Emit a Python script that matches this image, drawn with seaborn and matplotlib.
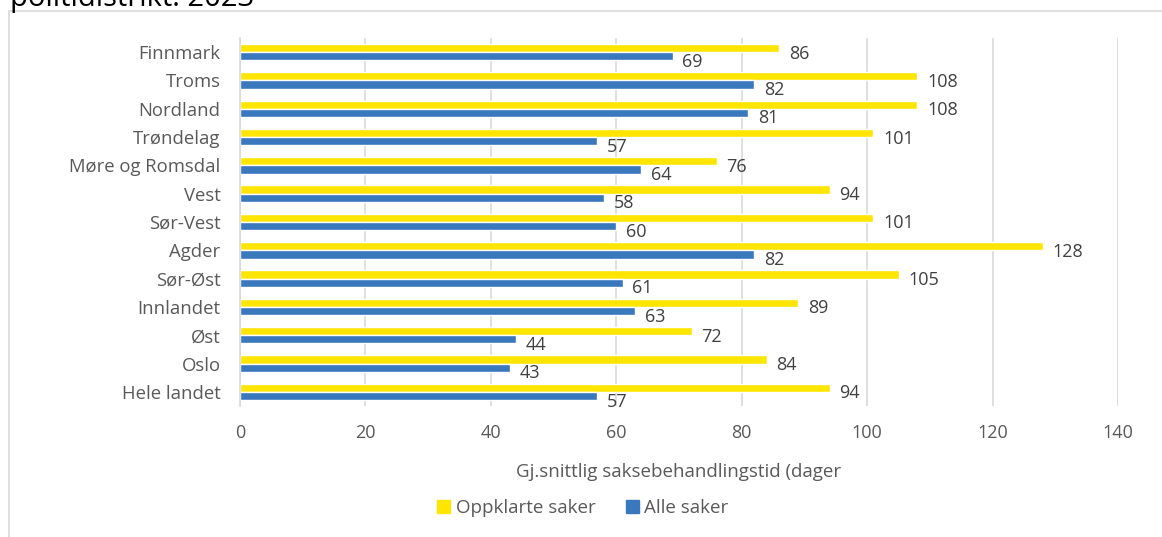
import matplotlib
matplotlib.use("Agg")
import matplotlib.pyplot as plt
import seaborn as sns
import pandas as pd
from matplotlib.patches import Patch, Rectangle

districts = ["Finnmark", "Troms", "Nordland", "Trøndelag", "Møre og Romsdal", "Vest",
             "Sør-Vest", "Agder", "Sør-Øst", "Innlandet", "Øst", "Oslo", "Hele landet"]
oppklarte = [86, 108, 108, 101, 76, 94, 101, 128, 105, 89, 72, 84, 94]
alle = [69, 82, 81, 57, 64, 58, 60, 82, 61, 63, 44, 43, 57]
series_names = ["Oppklarte saker", "Alle saker"]
xticks = [0, 20, 40, 60, 80, 100, 120, 140]

colors = ["#FFE500", "#3A78BD"]
text_color = "#595959"

df = pd.DataFrame({
    "distrikt": districts * 2,
    "verdi": oppklarte + alle,
    "serie": [series_names[0]] * len(districts) + [series_names[1]] * len(districts),
})

sns.set_theme(style="white")
plt.rcParams["font.family"] = ["Open Sans", "DejaVu Sans"]

fig = plt.figure(figsize=(11.62, 5.37), dpi=100)
ax = fig.add_axes([240 / 1162, 1 - 406 / 537, 878 / 1162, 368 / 537])

sns.barplot(data=df, x="verdi", y="distrikt", hue="serie", orient="h",
            palette=colors, width=0.58, ax=ax, legend=False, saturation=1)

ax.set_xlim(0, 140)
ax.set_ylim(12.5, -0.5)
ax.set_xticks(xticks)
ax.set_xticklabels([str(t) for t in xticks])
ax.grid(axis="x", color="#D9D9D9", linewidth=1.2)
ax.set_axisbelow(True)
for s in ["top", "right", "bottom"]:
    ax.spines[s].set_visible(False)
ax.spines["left"].set_color("#D9D9D9")
ax.spines["left"].set_linewidth(1.2)
ax.tick_params(axis="y", length=0, pad=14, labelsize=13.3, labelcolor=text_color)
ax.tick_params(axis="x", length=0, pad=13, labelsize=13, labelcolor=text_color)
ax.set_ylabel("")
ax.set_xlabel("Gj.snittlig saksebehandlingstid (dager", fontsize=13.5, color=text_color, labelpad=15)

for cont in ax.containers:
    anns = ax.bar_label(cont, fmt="%d", padding=7, fontsize=13, color="#404040")
    for a in anns:
        a.xyann = (7, -4)

fig.legend(handles=[Patch(color=colors[0]), Patch(color=colors[1])], labels=series_names,
           loc="center", bbox_to_anchor=(583 / 1162, 1 - 508 / 537), ncol=2, frameon=False,
           handlelength=0.7, handleheight=0.7, handletextpad=0.3, columnspacing=1.6,
           fontsize=13.5, labelcolor=text_color)

fig.patches.append(Rectangle((9 / 1162, -0.1), 1.2, 1.1 - 11 / 537, transform=fig.transFigure,
                             fill=False, edgecolor="#D9D9D9", linewidth=1.2))
fig.text(10 / 1162, 1 - 6 / 537, "politidistrikt: 2023", fontsize=21, color="black",
         va="baseline", ha="left")

fig.savefig("out.png", dpi=100, facecolor="white")
